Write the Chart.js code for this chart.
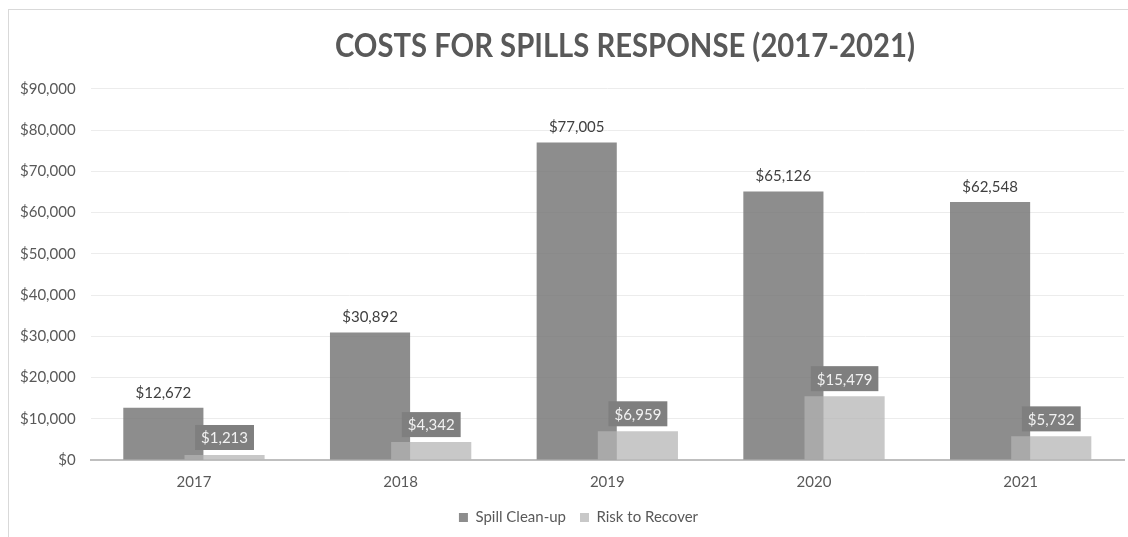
<!DOCTYPE html>
<html><head><meta charset="utf-8">
<script src="https://cdn.jsdelivr.net/npm/chart.js@4/dist/chart.umd.min.js"></script>
<style>
html,body{margin:0;padding:0;background:#fff;}
#wrap{position:absolute;left:0;top:0;width:1128px;height:537px;}
#frame{position:absolute;left:8px;top:9px;width:1130px;height:540px;border:1px solid #d9d9d9;box-sizing:border-box;}
canvas{position:absolute;left:0;top:0;}
</style></head>
<body><div id="wrap"><div id="frame"></div><canvas id="c" width="1128" height="537"></canvas></div>
<script>
const years = ['2017','2018','2019','2020','2021'];
const spillCleanup = [12672, 30892, 77005, 65126, 62548];
const riskToRecover = [1213, 4342, 6959, 15479, 5732];
const yTicks = [0,10000,20000,30000,40000,50000,60000,70000,80000,90000];
const titleText = 'COSTS FOR SPILLS RESPONSE (2017-2021)';

const fmt = v => '$' + v.toLocaleString('en-US');
const FONT = "Lato, 'Open Sans', sans-serif";

const layerPlugin = {
  id: 'layer',
  beforeDatasetDraw(chart, args) {
    if (args.index === 1) return false;
  },
  afterDatasetsDraw(chart) {
    const ctx = chart.ctx;
    // draw light series on top of dark series
    chart.getDatasetMeta(1).controller.draw();
    ctx.save();
    ctx.font = "15px " + FONT;
    ctx.textAlign = 'center';
    ctx.textBaseline = 'middle';
    chart.data.datasets.forEach((ds, di) => {
      const meta = chart.getDatasetMeta(di);
      meta.data.forEach((bar, i) => {
        const txt = fmt(ds.data[i]);
        if (di === 0) {
          ctx.fillStyle = '#404040';
          ctx.fillText(txt, bar.x, bar.y - 15);
        } else {
          const w = ctx.measureText(txt).width + 12;
          const h = 25;
          const bottom = bar.y - 5;
          ctx.fillStyle = '#7f7f7f';
          ctx.fillRect(bar.x - w/2, bottom - h, w, h);
          ctx.fillStyle = '#f2f2f2';
          ctx.fillText(txt, bar.x, bottom - h/2 + 1);
        }
      });
    });
    // title (narrowed to match the condensed original face)
    ctx.font = "bold 32px " + FONT;
    ctx.fillStyle = '#595959';
    ctx.textBaseline = 'middle';
    ctx.translate(625, 47);
    ctx.scale(0.914, 1);
    ctx.fillText(titleText, 0, 0);
    ctx.restore();
  },
  afterLayout(chart) {
    if (chart.legend) { chart.legend.left += 14; chart.legend.right += 14; }
  }
};

new Chart(document.getElementById('c'), {
  type: 'bar',
  data: {
    labels: years,
    datasets: [
      { label: 'Spill Clean-up', data: spillCleanup, backgroundColor: 'rgba(121,121,121,0.85)' },
      { label: 'Risk to Recover', data: riskToRecover, backgroundColor: 'rgba(180,180,180,0.73)' }
    ]
  },
  plugins: [layerPlugin],
  options: {
    responsive: false,
    animation: false,
    devicePixelRatio: 1,
    categoryPercentage: 0.592,
    barPercentage: 1.31,
    layout: { padding: { left: 5, right: 4, top: 10, bottom: 2 } },
    plugins: {
      title: {
        display: true,
        text: titleText,
        color: 'rgba(0,0,0,0)',
        font: { family: FONT, size: 34, weight: 'bold' },
        padding: { top: 20, bottom: 18 }
      },
      legend: {
        position: 'bottom',
        labels: {
          color: '#595959',
          font: { family: FONT, size: 15 },
          boxWidth: 9, boxHeight: 9, padding: 14,
          generateLabels(chart) {
            return chart.data.datasets.map((d, i) => ({
              text: d.label, fillStyle: i === 0 ? '#8d8d8d' : '#c8c8c8',
              strokeStyle: 'transparent', lineWidth: 0, datasetIndex: i, fontColor: '#595959'
            }));
          }
        }
      },
      tooltip: { enabled: false }
    },
    scales: {
      x: {
        grid: { display: false },
        border: { color: '#bfbfbf', width: 2 },
        ticks: { color: '#595959', font: { family: FONT, size: 15 }, padding: 5 }
      },
      y: {
        min: 0, max: 90000,
        afterBuildTicks(axis) { axis.ticks = yTicks.map(v => ({ value: v })); },
        grid: { color: '#ececec', lineWidth: 1, drawTicks: false },
        border: { display: false },
        ticks: { color: '#595959', font: { family: FONT, size: 15 }, padding: 15, callback: v => fmt(v) }
      }
    }
  }
});
</script></body></html>
